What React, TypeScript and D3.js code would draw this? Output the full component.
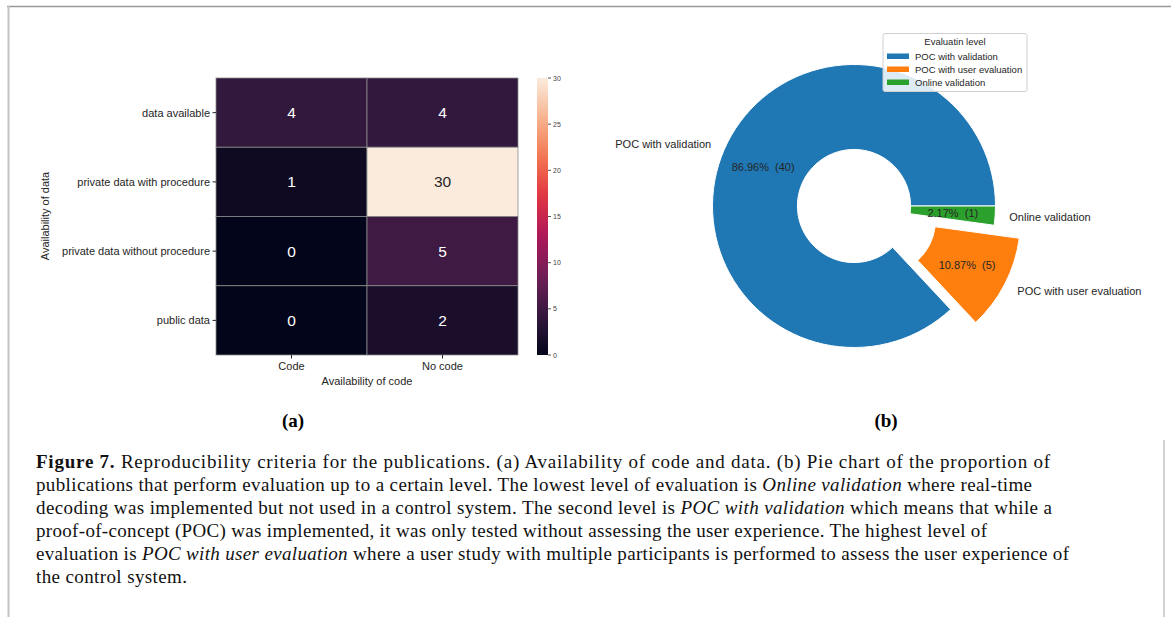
import React from "react";
import * as d3 from "d3";

// heatmap (a)
const dataRows = ["data available", "private data with procedure", "private data without procedure", "public data"];
const codeCols = ["Code", "No code"];
const counts = [
  [4, 4],
  [1, 30],
  [0, 5],
  [0, 2],
];
const cbarTicks = [0, 5, 10, 15, 20, 25, 30];
// seaborn "rocket" sampled
const rocketStops = ["#03051a", "#35193e", "#701f57", "#ad1759", "#e13342", "#f37651", "#f6b48f", "#faebdd"];

// pie (b)
const levels = ["POC with validation", "POC with user evaluation", "Online validation"];
const levelCounts = [40, 5, 1];
const levelColors = ["#1f77b4", "#ff7f0e", "#2ca02c"];
const explode = [0, 0.2, 0];

const captionLines: { t: string; s?: "b" | "i" }[][] = [
  [{ t: "Figure 7.", s: "b" }, { t: " Reproducibility criteria for the publications. (a) Availability of code and data. (b) Pie chart of the proportion of" }],
  [{ t: "publications that perform evaluation up to a certain level. The lowest level of evaluation is " }, { t: "Online validation", s: "i" }, { t: " where real-time" }],
  [{ t: "decoding was implemented but not used in a control system. The second level is " }, { t: "POC with validation", s: "i" }, { t: " which means that while a" }],
  [{ t: "proof-of-concept (POC) was implemented, it was only tested without assessing the user experience. The highest level of" }],
  [{ t: "evaluation is " }, { t: "POC with user evaluation", s: "i" }, { t: " where a user study with multiple participants is performed to assess the user experience of" }],
  [{ t: "the control system." }],
];
const captionWidths = [1014, 996, 1016, 951, 1033, 151];

const sans = "'Liberation Sans', Arial, sans-serif";
const serif = "'Liberation Serif', 'DejaVu Serif', serif";
const ink = "#262626";

export default function App() {
  // heatmap scales
  const x = d3.scaleBand<string>().domain(codeCols).range([216, 518]);
  const y = d3.scaleBand<string>().domain(dataRows).range([78, 355]);
  const colorPos = d3.scaleLinear().domain([0, 30]).range([0, 1]);
  const rocket = d3.piecewise(d3.interpolateRgb, rocketStops);
  const color = (v: number) => rocket(colorPos(v));
  const cbY = d3.scaleLinear().domain([0, 30]).range([355, 78]);
  const gradStops = d3.range(0, 1.0001, 0.05);

  // pie
  const cx = 854, cy = 206, R = 141.5;
  const pie = d3
    .pie<number>()
    .sort(null)
    .startAngle(Math.PI / 2)
    .endAngle(Math.PI / 2 - 2 * Math.PI);
  const arcs = pie(levelCounts);
  const arc = d3.arc<d3.PieArcDatum<number>>().innerRadius(R * 0.4).outerRadius(R);
  const total = d3.sum(levelCounts);

  return (
    <svg width={1171} height={617} style={{ position: "absolute", left: 0, top: 0, background: "#fff" }}>
      {/* page frame */}
      <line x1={7} y1={6.5} x2={1171} y2={6.5} stroke="#9a9a9a" strokeWidth={1.5} />
      <line x1={8.5} y1={6} x2={8.5} y2={617} stroke="#c4c4c4" strokeWidth={2} />
      <line x1={1164} y1={440} x2={1164} y2={617} stroke="#c4c4c4" strokeWidth={1.5} />

      {/* heatmap cells */}
      <g>
        {counts.map((row, i) =>
          row.map((v, j) => (
            <g key={`${i}-${j}`}>
              <rect
                x={x(codeCols[j])}
                y={y(dataRows[i])}
                width={x.bandwidth()}
                height={y.bandwidth()}
                fill={color(v)}
                stroke="#8a8a8a"
                strokeWidth={0.8}
              />
              <text
                x={x(codeCols[j])! + x.bandwidth() / 2}
                y={y(dataRows[i])! + y.bandwidth() / 2}
                textAnchor="middle"
                dominantBaseline="central"
                fontFamily={sans}
                fontSize={15.5}
                fill={v > 15 ? ink : "#ffffff"}
              >
                {v}
              </text>
            </g>
          ))
        )}
      </g>
      {/* heatmap y axis */}
      {dataRows.map((r) => (
        <g key={r}>
          <line x1={212.5} x2={216} y1={y(r)! + y.bandwidth() / 2} y2={y(r)! + y.bandwidth() / 2} stroke={ink} strokeWidth={1} />
          <text x={210} y={y(r)! + y.bandwidth() / 2} textAnchor="end" dominantBaseline="central" fontFamily={sans} fontSize={11} fill={ink}>
            {r}
          </text>
        </g>
      ))}
      <text transform="translate(45,216) rotate(-90)" textAnchor="middle" dominantBaseline="central" fontFamily={sans} fontSize={11} fill={ink}>
        Availability of data
      </text>
      {/* heatmap x axis */}
      {codeCols.map((c) => (
        <g key={c}>
          <line x1={x(c)! + x.bandwidth() / 2} x2={x(c)! + x.bandwidth() / 2} y1={355} y2={358.5} stroke={ink} strokeWidth={1} />
          <text x={x(c)! + x.bandwidth() / 2} y={366} textAnchor="middle" dominantBaseline="central" fontFamily={sans} fontSize={11} fill={ink}>
            {c}
          </text>
        </g>
      ))}
      <text x={367} y={381} textAnchor="middle" dominantBaseline="central" fontFamily={sans} fontSize={11} fill={ink}>
        Availability of code
      </text>

      {/* colorbar */}
      <defs>
        <linearGradient id="rocket" x1="0" y1="1" x2="0" y2="0">
          {gradStops.map((t) => (
            <stop key={t} offset={t} stopColor={rocket(t)} />
          ))}
        </linearGradient>
      </defs>
      <rect x={537} y={cbY(30)} width={11} height={cbY(0) - cbY(30)} fill="url(#rocket)" />
      {cbarTicks.map((t) => (
        <g key={t}>
          <line x1={548} x2={551} y1={cbY(t)} y2={cbY(t)} stroke={ink} strokeWidth={0.8} />
          <text x={553} y={cbY(t)} dominantBaseline="central" fontFamily={sans} fontSize={7} fill="#444">
            {t}
          </text>
        </g>
      ))}

      {/* pie */}
      <g transform={`translate(${cx},${cy})`}>
        {arcs.map((a, i) => {
          const mid = (a.startAngle + a.endAngle) / 2;
          const ox = Math.sin(mid) * explode[i] * R;
          const oy = -Math.cos(mid) * explode[i] * R;
          const lx = ox + Math.sin(mid) * 1.1 * R;
          const ly = oy - Math.cos(mid) * 1.1 * R;
          const px = ox + Math.sin(mid) * 0.7 * R;
          const py = oy - Math.cos(mid) * 0.7 * R;
          const pct = ((a.data / total) * 100).toFixed(2);
          return (
            <g key={levels[i]}>
              <path d={arc(a)!} transform={`translate(${ox},${oy})`} fill={levelColors[i]} stroke="#ffffff" strokeWidth={1} />
              <text x={px} y={py} textAnchor="middle" dominantBaseline="central" fontFamily={sans} fontSize={11} fill={ink} style={{ whiteSpace: "pre" }}>
                {`${pct}%  (${a.data})`}
              </text>
              <text x={lx} y={ly} textAnchor={lx < 0 ? "end" : "start"} dominantBaseline="central" fontFamily={sans} fontSize={11} fill={ink}>
                {levels[i]}
              </text>
            </g>
          );
        })}
      </g>

      {/* legend */}
      <g>
        <rect x={883} y={33.5} width={144} height={58} fill="#ffffff" fillOpacity={0.85} stroke="#d0d0d0" strokeWidth={1} rx={2} />
        <text x={955} y={41.5} textAnchor="middle" dominantBaseline="central" fontFamily={sans} fontSize={9.5} fill={ink}>
          Evaluatin level
        </text>
        {levels.map((l, i) => (
          <g key={l}>
            <rect x={887} y={53.5 + i * 13} width={22} height={5.5} fill={levelColors[i]} />
            <text x={915} y={56.3 + i * 13} dominantBaseline="central" fontFamily={sans} fontSize={9.5} fill={ink}>
              {l}
            </text>
          </g>
        ))}
      </g>

      {/* sub-figure labels */}
      <text x={293} y={420} textAnchor="middle" dominantBaseline="central" fontFamily={serif} fontWeight="bold" fontSize={19} fill="#000">
        (a)
      </text>
      <text x={886} y={420} textAnchor="middle" dominantBaseline="central" fontFamily={serif} fontWeight="bold" fontSize={19} fill="#000">
        (b)
      </text>

      {/* caption */}
      {captionLines.map((parts, i) => (
        <text
          key={i}
          x={36}
          y={467.5 + i * 23}
          fontFamily={serif}
          fontSize={19}
          fill="#111"
          textLength={captionWidths[i]}
          lengthAdjust="spacing"
          style={{ whiteSpace: "pre" }}
        >
          {parts.map((p, k) => (
            <tspan key={k} fontWeight={p.s === "b" ? "bold" : undefined} fontStyle={p.s === "i" ? "italic" : undefined}>
              {p.t}
            </tspan>
          ))}
        </text>
      ))}
    </svg>
  );
}
